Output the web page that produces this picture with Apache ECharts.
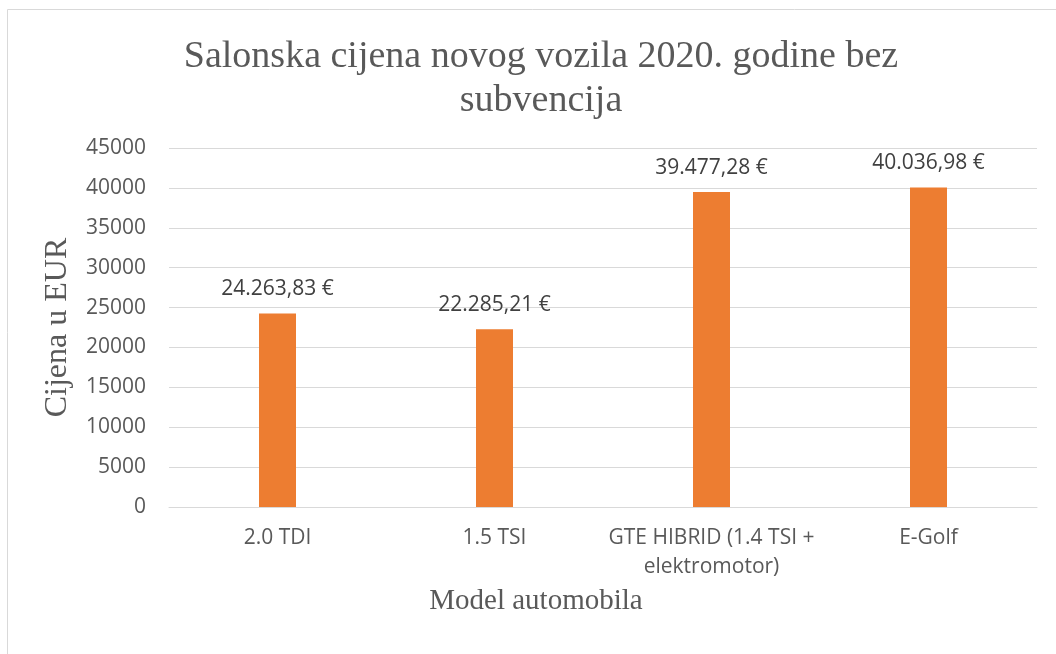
<!DOCTYPE html>
<html>
<head>
<meta charset="utf-8">
<script src="https://cdn.jsdelivr.net/npm/echarts@6/dist/echarts.min.js"></script>
<style>
html, body { margin: 0; padding: 0; background: #fff; }
#chart { width: 1056px; height: 654px; }
</style>
</head>
<body>
<div id="chart"></div>
<script>
var models = ['2.0 TDI', '1.5 TSI', 'GTE HIBRID (1.4 TSI +\nelektromotor)', 'E-Golf'];
var prices = [24263.83, 22285.21, 39477.28, 40036.98];
var priceLabels = ['24.263,83 €', '22.285,21 €', '39.477,28 €', '40.036,98 €'];

var myChart = echarts.init(document.getElementById('chart'));
var option = {
    animation: false,
    title: {
        text: 'Salonska cijena novog vozila 2020. godine bez\nsubvencija',
        left: 536,
        top: 30,
        textAlign: 'center',
        textStyle: {
            fontFamily: 'Liberation Serif',
            fontSize: 38,
            fontWeight: 'normal',
            color: '#595959',
            lineHeight: 44
        }
    },
    graphic: [{
        type: 'rect',
        shape: { x: 7.5, y: 9.5, width: 1100, height: 700 },
        style: { fill: 'none', stroke: '#d9d9d9', lineWidth: 1 },
        silent: true
    }],
    grid: {
        left: 169,
        right: 19,
        top: 148,
        bottom: 147
    },
    xAxis: {
        type: 'category',
        data: models,
        name: 'Model automobila',
        nameLocation: 'middle',
        nameGap: 76,
        nameTextStyle: {
            fontFamily: 'Liberation Serif',
            fontSize: 29,
            color: '#595959',
            padding: [0, 134, 0, 0]
        },
        axisLine: { lineStyle: { color: '#d9d9d9', width: 1 } },
        axisTick: { show: false },
        axisLabel: {
            interval: 0,
            margin: 17,
            fontFamily: 'Open Sans',
            fontSize: 21,
            lineHeight: 29,
            color: '#595959'
        }
    },
    yAxis: {
        type: 'value',
        min: 0,
        max: 45000,
        interval: 5000,
        name: 'Cijena u EUR',
        nameLocation: 'middle',
        nameGap: 95,
        nameTextStyle: {
            fontFamily: 'Liberation Serif',
            fontSize: 32,
            color: '#595959'
        },
        axisLine: { show: false },
        axisTick: { show: false },
        axisLabel: {
            margin: 23,
            fontFamily: 'Open Sans',
            fontSize: 21,
            color: '#595959',
            formatter: function (v) { return String(v); }
        },
        splitLine: { lineStyle: { color: '#d9d9d9', width: 1 } }
    },
    series: [{
        type: 'bar',
        data: prices,
        barWidth: 37,
        itemStyle: { color: '#ed7d31' },
        label: {
            show: true,
            position: 'top',
            distance: 14,
            fontFamily: 'Open Sans',
            fontSize: 21,
            color: '#404040',
            formatter: function (p) { return priceLabels[p.dataIndex]; }
        }
    }]
};
myChart.setOption(option);
</script>
</body>
</html>
